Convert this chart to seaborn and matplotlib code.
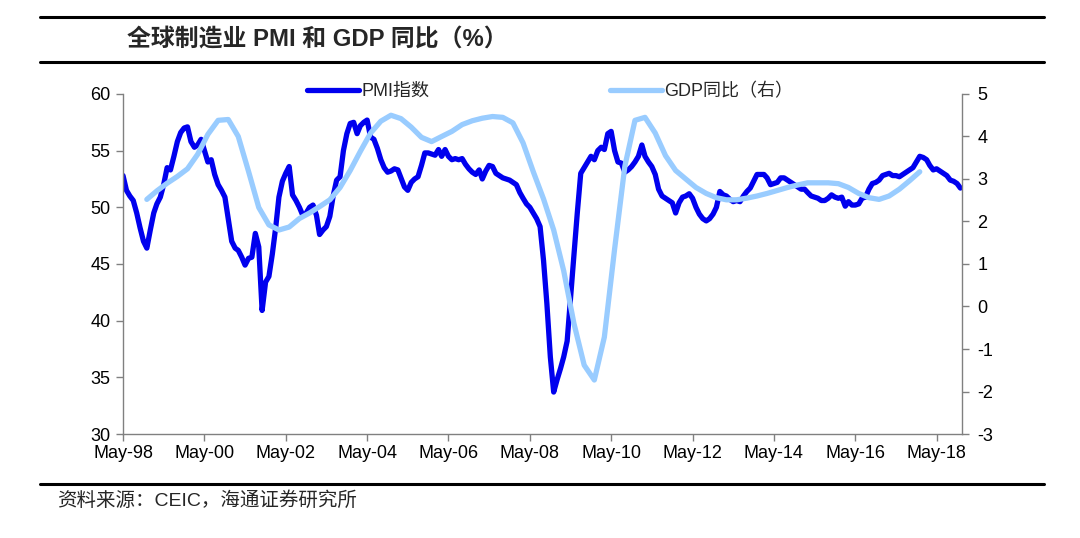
import matplotlib
matplotlib.use("Agg")
import matplotlib.pyplot as plt
import matplotlib.dates as mdates
from matplotlib.lines import Line2D
import numpy as np
import pandas as pd
import seaborn as sns

# global manufacturing PMI, monthly from May-98
pmi_start = "1998-05-01"
pmi = [
    52.8, 51.5, 51.0, 50.6, 49.5, 48.2, 47.0, 46.4, 48.0, 49.5, 50.3, 50.9,
    52.0, 53.5, 53.3, 54.5, 55.8, 56.6, 57.0, 57.1, 55.8, 55.3, 55.5, 56.0,
    55.0, 54.0, 54.2, 52.9, 52.0, 51.5, 50.9, 49.0, 47.0, 46.4, 46.2, 45.6,
    44.9, 45.5, 45.6, 47.7, 46.5, 40.9, 43.4, 43.9, 45.9, 48.3, 50.9, 52.3,
    53.0, 53.6, 51.1, 50.6, 50.0, 49.3, 49.5, 50.0, 50.2, 49.3, 47.6, 48.0,
    48.3, 49.2, 51.0, 52.4, 52.7, 55.0, 56.5, 57.4, 57.5, 56.5, 57.2, 57.5,
    57.7, 56.2, 56.0, 55.2, 54.2, 53.5, 53.1, 53.2, 53.4, 53.3, 52.6, 51.8,
    51.5, 52.2, 52.5, 52.7, 53.7, 54.8, 54.8, 54.7, 54.6, 55.1, 54.5, 55.1,
    54.5, 54.2, 54.3, 54.2, 54.3, 53.8, 53.4, 53.1, 52.9, 53.3, 52.5, 53.2,
    53.7, 53.6, 53.0, 52.8, 52.6, 52.5, 52.4, 52.2, 52.0, 51.3, 50.8, 50.3,
    50.0, 49.5, 49.0, 48.3, 45.3, 41.5, 36.8, 33.7, 34.8, 35.8, 36.8, 38.2,
    42.0, 45.8, 49.5, 53.0, 53.5, 54.0, 54.5, 54.2, 55.0, 55.3, 55.1, 56.5,
    56.7, 55.0, 54.0, 53.9, 53.1, 53.3, 53.6, 54.0, 54.5, 55.5, 54.5, 54.0,
    53.6, 52.9, 51.6, 51.0, 50.8, 50.6, 50.4, 49.5, 50.4, 50.9, 51.0, 51.2,
    50.8, 50.0, 49.4, 49.0, 48.8, 49.0, 49.4, 50.0, 51.4, 51.1, 51.0, 50.7,
    50.5, 50.6, 50.5, 51.0, 51.4, 51.7, 52.3, 52.9, 52.9, 52.9, 52.6, 52.0,
    52.1, 52.2, 52.6, 52.6, 52.4, 52.2, 52.0, 51.8, 51.6, 51.6, 51.3, 51.0,
    50.9, 50.8, 50.6, 50.6, 50.8, 51.1, 50.9, 50.8, 50.9, 50.1, 50.5, 50.2,
    50.2, 50.3, 50.8, 50.9, 51.6, 52.1, 52.2, 52.4, 52.8, 52.9, 53.0, 52.8,
    52.8, 52.7, 52.9, 53.1, 53.3, 53.5, 54.0, 54.5, 54.4, 54.2, 53.7, 53.3,
    53.4, 53.2, 53.0, 52.8, 52.4, 52.3, 52.1, 51.7,
]

# global GDP yoy (%), quarterly from Dec-98 (right axis)
gdp_start = "1998-12-01"
gdp = [
    2.52, 2.72, 2.90, 3.06, 3.24, 3.58, 4.05, 4.38, 4.40, 4.00, 3.18, 2.33,
    1.92, 1.80, 1.87, 2.07, 2.20, 2.35, 2.51, 2.80, 3.20, 3.65, 4.08, 4.36,
    4.50, 4.42, 4.22, 3.98, 3.88, 4.00, 4.12, 4.28, 4.37, 4.43, 4.47, 4.45,
    4.32, 3.85, 3.17, 2.53, 1.80, 0.84, -0.40, -1.38, -1.73, -0.72, 1.35, 3.30,
    4.38, 4.45, 4.08, 3.55, 3.20, 3.00, 2.80, 2.66, 2.56, 2.51, 2.51, 2.55,
    2.60, 2.66, 2.73, 2.80, 2.86, 2.91, 2.91, 2.91, 2.89, 2.80, 2.66, 2.56,
    2.52, 2.60, 2.76, 2.96, 3.17,
]

left_ticks = [30, 35, 40, 45, 50, 55, 60]
right_ticks = [-3, -2, -1, 0, 1, 2, 3, 4, 5]

df_pmi = pd.DataFrame({"date": pd.date_range(pmi_start, periods=len(pmi), freq="MS"), "value": pmi})
df_gdp = pd.DataFrame({"date": pd.date_range(gdp_start, periods=len(gdp), freq="3MS"), "value": gdp})

sns.set_style("white")
plt.rcParams["font.family"] = ["Liberation Sans", "Noto Sans CJK SC", "DejaVu Sans"]
plt.rcParams["axes.unicode_minus"] = False

fig = plt.figure(figsize=(10.8, 5.38), dpi=100)
ax = fig.add_axes([0.1139, 0.1933, 0.7768, 0.632])
ax2 = ax.twinx()

sns.lineplot(data=df_pmi, x="date", y="value", ax=ax, color="#0000ee",
             linewidth=3.8, label="PMI指数", legend=False)
sns.lineplot(data=df_gdp, x="date", y="value", ax=ax2, color="#99ccff",
             linewidth=3.8, label="GDP同比（右）", legend=False)

ax.set_xlim(pd.Timestamp("1998-05-01"), pd.Timestamp("2018-12-15"))
ax.set_ylim(30, 60)
ax2.set_ylim(-3, 5)
ax.set_yticks(left_ticks)
ax2.set_yticks(right_ticks)
ax.xaxis.set_major_locator(mdates.YearLocator(base=2, month=5, day=1))
ax.xaxis.set_major_formatter(mdates.DateFormatter("%b-%y"))
ax.set_xlabel("")
ax.set_ylabel("")
ax2.set_ylabel("")

for a in (ax, ax2):
    a.spines["top"].set_visible(False)
    for side in ("left", "bottom", "right"):
        a.spines[side].set_color("#808080")
        a.spines[side].set_linewidth(1.0)
    a.tick_params(direction="out", length=5, width=1, color="#808080",
                  labelsize=13, labelcolor="black")
ax.spines["right"].set_visible(False)
ax2.spines["left"].set_visible(False)
ax2.spines["bottom"].set_visible(False)
ax.tick_params(axis="y", left=True, pad=4)
ax.tick_params(axis="x", bottom=True, pad=3)
ax2.tick_params(axis="y", right=True, pad=6)

h1, l1 = ax.get_legend_handles_labels()
h2, l2 = ax2.get_legend_handles_labels()
ax2.legend(h1 + h2, l1 + l2, loc="center", bbox_to_anchor=(0.509, 1.008),
           ncol=2, frameon=False, fontsize=13, handlelength=2.9,
           handletextpad=0.1, columnspacing=10.0, borderaxespad=0)

# title block and frame lines
for y in (0.968, 0.885, 0.1004):
    fig.add_artist(Line2D([0.037, 0.967], [y, y], color="black", linewidth=2.2))
fig.text(0.1176, 0.926, "全球制造业 PMI 和 GDP 同比（%）", fontsize=17.2,
         fontweight="bold", va="center", ha="left")
fig.text(0.0528, 0.069, "资料来源：CEIC，海通证券研究所", fontsize=14,
         va="center", ha="left")

fig.savefig("out.png", dpi=100)
plt.close(fig)
